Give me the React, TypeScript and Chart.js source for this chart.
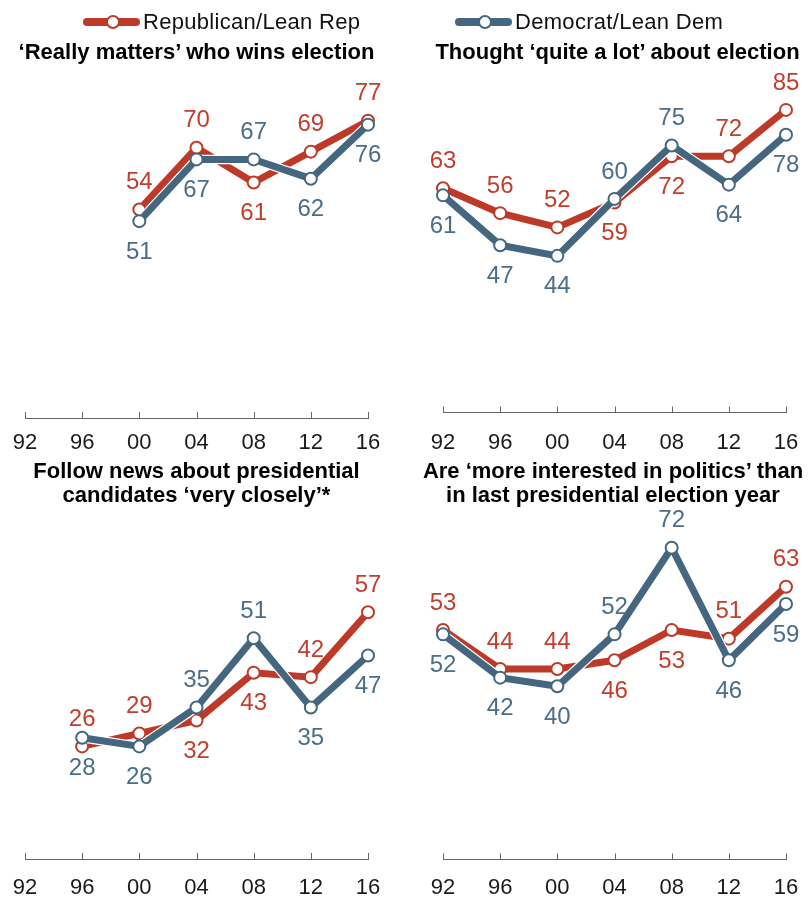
import React, { useEffect, useRef } from 'react';
import { Chart, registerables } from 'chart.js';

Chart.register(...registerables);

// ---- data ----
const years = ['92', '96', '00', '04', '08', '12', '16'];

const matterRep = [null, null, 54, 70, 61, 69, 77];
const matterDem = [null, null, 51, 67, 67, 62, 76];
const thoughtRep = [63, 56, 52, 59, 72, 72, 85];
const thoughtDem = [61, 47, 44, 60, 75, 64, 78];
const followRep = [null, 26, 29, 32, 43, 42, 57];
const followDem = [null, 28, 26, 35, 51, 35, 47];
const interestRep = [53, 44, 44, 46, 53, 51, 63];
const interestDem = [52, 42, 40, 52, 72, 46, 59];

// label placement: a = above point, b = below point
const matterRepPos = ['', '', 'a', 'a', 'b', 'a', 'a'];
const matterDemPos = ['', '', 'b', 'b', 'a', 'b', 'b'];
const thoughtRepPos = ['a', 'a', 'a', 'b', 'b', 'a', 'a'];
const thoughtDemPos = ['b', 'b', 'b', 'a', 'a', 'b', 'b'];
const followRepPos = ['', 'a', 'a', 'b', 'b', 'a', 'a'];
const followDemPos = ['', 'b', 'b', 'a', 'a', 'b', 'b'];
const interestRepPos = ['a', 'a', 'a', 'b', 'b', 'a', 'a'];
const interestDemPos = ['b', 'b', 'b', 'a', 'a', 'b', 'b'];

const repLabel = 'Republican/Lean Rep';
const demLabel = 'Democrat/Lean Dem';

// ---- styles ----
const RED = '#BE3A28';
const BLUE = '#44677F';
const RED_TEXT = '#C23E2C';
const BLUE_TEXT = '#4A6E88';
const AXIS = '#666666';
const FONT = '"Liberation Sans", Arial, Helvetica, sans-serif';
const TICK_SIZE = 22;

const tickMarks = {
  id: 'tickMarks',
  afterDraw(chart: any) {
    const xs = chart.scales.x;
    const ctx = chart.ctx;
    const y = xs.top;
    ctx.save();
    ctx.strokeStyle = AXIS;
    ctx.lineWidth = 1;
    xs.ticks.forEach((_t: any, i: number) => {
      const px = Math.round(xs.getPixelForTick(i)) + 0.5;
      ctx.beginPath();
      ctx.moveTo(px, y);
      ctx.lineTo(px, y - 6);
      ctx.stroke();
    });
    ctx.restore();
  },
};

const valueLabels = {
  id: 'valueLabels',
  afterDatasetsDraw(chart: any) {
    const ctx = chart.ctx;
    ctx.save();
    ctx.font = `24px ${FONT}`;
    ctx.textAlign = 'center';
    ctx.textBaseline = 'middle';
    chart.data.datasets.forEach((ds: any, di: number) => {
      const pos = ds.labelPos;
      if (!pos) return;
      const meta = chart.getDatasetMeta(di);
      ctx.fillStyle = ds.labelColor;
      meta.data.forEach((pt: any, i: number) => {
        const v = ds.data[i];
        if (v == null) return;
        const y = pos[i] === 'a' ? pt.y - 27 : pt.y + 31;
        ctx.fillText(String(v), pt.x, y);
      });
    });
    ctx.restore();
  },
};

type PanelProps = {
  left: number;
  top: number;
  width: number;
  height: number;
  padL: number;
  padR: number;
  zeroY: number;
  fullY: number;
  labelY: number;
  rep: (number | null)[];
  dem: (number | null)[];
  repPos: string[];
  demPos: string[];
};

function Panel(props: PanelProps) {
  const ref = useRef<HTMLCanvasElement | null>(null);
  useEffect(() => {
    const { top, height, padL, padR, zeroY, fullY, labelY, rep, dem, repPos, demPos } = props;
    const lineH = TICK_SIZE * 1.2;
    const gap = labelY - zeroY - lineH / 2; // distance from axis line to top of label box
    const padTop = fullY - top;
    const padBottom = top + height - zeroY - gap - lineH;
    const base = {
      fill: false,
      tension: 0,
      clip: false as any,
      spanGaps: false,
    };
    const chart = new Chart(ref.current as HTMLCanvasElement, {
      type: 'line',
      data: {
        labels: years,
        datasets: [
          { ...base, label: 'rep-outline', data: rep, borderColor: '#ffffff', borderWidth: 9.5, pointRadius: 0, order: 4 },
          {
            ...base,
            label: repLabel,
            data: rep,
            borderColor: RED,
            borderWidth: 7,
            pointRadius: 6,
            pointBorderWidth: 2,
            pointBackgroundColor: '#ffffff',
            pointBorderColor: RED,
            order: 3,
            labelPos: repPos,
            labelColor: RED_TEXT,
          } as any,
          { ...base, label: 'dem-outline', data: dem, borderColor: '#ffffff', borderWidth: 9.5, pointRadius: 0, order: 2 },
          {
            ...base,
            label: demLabel,
            data: dem,
            borderColor: BLUE,
            borderWidth: 7,
            pointRadius: 6,
            pointBorderWidth: 2,
            pointBackgroundColor: '#ffffff',
            pointBorderColor: BLUE,
            order: 1,
            labelPos: demPos,
            labelColor: BLUE_TEXT,
          } as any,
        ],
      },
      options: {
        responsive: false,
        animation: false,
        events: [],
        layout: { autoPadding: false, padding: { left: padL, right: padR, top: padTop, bottom: padBottom } },
        plugins: {
          legend: { display: false },
          tooltip: { enabled: false },
          title: { display: false },
        },
        scales: {
          x: {
            type: 'category',
            offset: false,
            grid: {
              display: true,
              drawOnChartArea: false,
              drawTicks: true,
              tickLength: gap,
              tickColor: 'rgba(0,0,0,0)',
            },
            border: { display: true, color: AXIS, width: 1 },
            ticks: {
              padding: 0,
              color: '#1a1a1a',
              font: { family: FONT, size: TICK_SIZE },
              maxRotation: 0,
              autoSkip: false,
            },
          },
          y: { display: false, min: 0, max: 100 },
        },
      },
      plugins: [tickMarks, valueLabels],
    });
    return () => chart.destroy();
  }, []);
  return (
    <canvas
      ref={ref}
      width={props.width}
      height={props.height}
      style={{ position: 'absolute', left: props.left, top: props.top, width: props.width, height: props.height }}
    />
  );
}

function LegendItem({ x, color, text }: { x: number; color: string; text: string }) {
  return (
    <>
      <div
        style={{ position: 'absolute', left: x, top: 17.5, width: 57, height: 8, background: color, borderRadius: 4 }}
      />
      <div
        style={{
          position: 'absolute',
          left: x + 30 - 7,
          top: 21.5 - 7,
          width: 14,
          height: 14,
          boxSizing: 'border-box',
          border: `2px solid ${color}`,
          borderRadius: '50%',
          background: '#fff',
        }}
      />
      <div
        style={{
          position: 'absolute',
          left: x + 60,
          top: 10.4,
          font: `22px ${FONT}`,
          lineHeight: '24px',
          letterSpacing: '0.3px',
          color: '#111',
          whiteSpace: 'nowrap',
        }}
      >
        {text}
      </div>
    </>
  );
}

function Title({ cx, top, lines }: { cx: number; top: number; lines: string[] }) {
  return (
    <div
      style={{
        position: 'absolute',
        left: cx - 205,
        top,
        width: 410,
        textAlign: 'center',
        font: `bold 22px ${FONT}`,
        lineHeight: '24px',
        color: '#000',
        whiteSpace: 'nowrap',
      }}
    >
      {lines.map((l, i) => (
        <div key={i}>{l}</div>
      ))}
    </div>
  );
}

export default function App() {
  return (
    <div style={{ position: 'absolute', left: 0, top: 0, width: 810, height: 899, background: '#fff', overflow: 'hidden' }}>
      <Panel left={0} top={0} width={405} height={478} padL={25} padR={37} zeroY={418} fullY={32} labelY={443}
        rep={matterRep} dem={matterDem} repPos={matterRepPos} demPos={matterDemPos} />
      <Panel left={405} top={0} width={405} height={478} padL={38} padR={24} zeroY={412.5} fullY={56.5} labelY={443}
        rep={thoughtRep} dem={thoughtDem} repPos={thoughtRepPos} demPos={thoughtDemPos} />
      <Panel left={0} top={420} width={405} height={510} padL={25} padR={37} zeroY={859} fullY={426} labelY={888}
        rep={followRep} dem={followDem} repPos={followRepPos} demPos={followDemPos} />
      <Panel left={405} top={420} width={405} height={510} padL={38} padR={24} zeroY={859.5} fullY={426.5} labelY={888}
        rep={interestRep} dem={interestDem} repPos={interestRepPos} demPos={interestDemPos} />

      <LegendItem x={83} color={RED} text={repLabel} />
      <LegendItem x={455} color={BLUE} text={demLabel} />

      <Title cx={196.5} top={40.4} lines={['‘Really matters’ who wins election']} />
      <Title cx={617.5} top={40.4} lines={['Thought ‘quite a lot’ about election']} />
      <Title cx={196.5} top={459.4} lines={['Follow news about presidential', 'candidates ‘very closely’*']} />
      <Title cx={613} top={459.4} lines={['Are ‘more interested in politics’ than', 'in last presidential election year']} />
    </div>
  );
}
